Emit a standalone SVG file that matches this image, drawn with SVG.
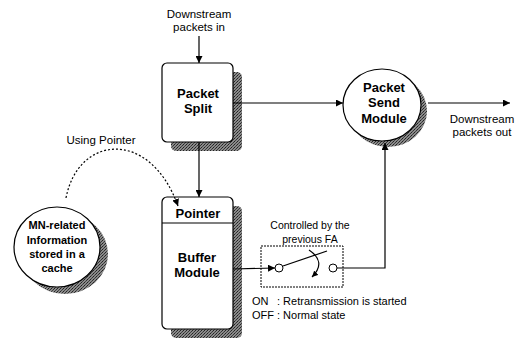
<svg xmlns="http://www.w3.org/2000/svg" width="516" height="339" viewBox="0 0 516 339">
<style>
text{font-family:"Liberation Sans",Arial,sans-serif;fill:#000}
.lbl{font-size:11.5px}
.st{font-size:11px}
.sm{font-size:10.5px}
.b{font-size:13px;font-weight:bold}
.bc{font-size:11px;font-weight:bold}
.node{fill:#fff;stroke:#000;stroke-width:1.2}
.sh{fill:url(#stip);stroke:none}
.ln{fill:none;stroke:#000;stroke-width:1.2}
</style>
<defs>
<pattern id="stip" width="3" height="3" patternUnits="userSpaceOnUse">
<rect width="3" height="3" fill="#8a8a8a"/>
<rect x="0" y="0" width="1" height="1" fill="#222"/>
<rect x="2" y="1" width="1" height="1" fill="#333"/>
<rect x="1" y="2" width="1" height="1" fill="#444"/>
</pattern>
<marker id="ah" viewBox="0 0 10 10" refX="10" refY="5" markerWidth="7" markerHeight="7" orient="auto" markerUnits="userSpaceOnUse">
<path d="M0,0 L10,5 L0,10 z" fill="#000"/>
</marker>
<marker id="ahs" viewBox="0 0 10 10" refX="10" refY="5" markerWidth="6" markerHeight="6" orient="auto" markerUnits="userSpaceOnUse">
<path d="M0,0 L10,5 L0,10 z" fill="#000"/>
</marker>
</defs>

<g id="packet-split">
<rect class="sh" x="171" y="72" width="71" height="79" rx="5"/>
<rect class="node" x="162" y="63" width="71" height="79" rx="5"/>
<text class="b" x="198" y="98" text-anchor="middle">Packet</text>
<text class="b" x="198" y="113" text-anchor="middle">Split</text>
</g>

<g id="buffer-module">
<rect class="sh" x="171" y="206" width="71" height="132" rx="5"/>
<rect class="node" x="162" y="197" width="71" height="132" rx="5"/>
<line class="ln" x1="162" y1="223" x2="233" y2="223"/>
<text class="b" x="198" y="218" text-anchor="middle">Pointer</text>
<text class="b" x="197" y="262" text-anchor="middle">Buffer</text>
<text class="b" x="197" y="277" text-anchor="middle">Module</text>
</g>

<g id="packet-send">
<ellipse class="sh" cx="388" cy="111" rx="39" ry="36"/>
<ellipse class="node" cx="382" cy="105" rx="39" ry="36"/>
<text class="b" x="384" y="92" text-anchor="middle">Packet</text>
<text class="b" x="384" y="107" text-anchor="middle">Send</text>
<text class="b" x="384" y="123" text-anchor="middle">Module</text>
</g>

<g id="cache">
<ellipse class="sh" cx="65" cy="254" rx="43" ry="40"/>
<ellipse class="node" cx="57" cy="247" rx="43" ry="40"/>
<text class="bc" x="57" y="229" text-anchor="middle">MN-related</text>
<text class="bc" x="57" y="244" text-anchor="middle">Information</text>
<text class="bc" x="57" y="258" text-anchor="middle">stored in a</text>
<text class="bc" x="57" y="272" text-anchor="middle">cache</text>
</g>

<g id="switch">
<rect x="261" y="246" width="82" height="41" fill="none" stroke="#000" stroke-width="1" stroke-dasharray="2 1"/>
<circle cx="279" cy="268" r="4" fill="#fff" stroke="#000" stroke-width="1"/>
<circle cx="333" cy="268" r="4" fill="#fff" stroke="#000" stroke-width="1"/>
<line class="ln" x1="283" y1="266" x2="327" y2="251"/>
<path class="ln" d="M309,250 Q327,262 312,277" marker-end="url(#ahs)"/>
</g>

<g id="connectors">
<line class="ln" x1="199" y1="36" x2="199" y2="63" marker-end="url(#ah)"/>
<line class="ln" x1="199" y1="142" x2="199" y2="197" marker-end="url(#ah)"/>
<line class="ln" x1="233" y1="103" x2="343" y2="103" marker-end="url(#ah)"/>
<line class="ln" x1="428" y1="103" x2="510" y2="103" marker-end="url(#ah)"/>
<line class="ln" x1="233" y1="269" x2="275" y2="268" marker-end="url(#ah)"/>
<path class="ln" d="M337,268 L385,268 L385,143" marker-end="url(#ah)"/>
<path d="M66,198 C78,135 150,128 178,206" fill="none" stroke="#000" stroke-width="1.2" stroke-dasharray="2 2" marker-end="url(#ah)"/>
</g>

<g id="labels">
<text class="lbl" x="199" y="18" text-anchor="middle">Downstream</text>
<text class="lbl" x="199" y="31" text-anchor="middle">packets in</text>
<text class="lbl" x="482" y="123" text-anchor="middle">Downstream</text>
<text class="lbl" x="482" y="136" text-anchor="middle">packets out</text>
<text class="lbl" x="101" y="144" text-anchor="middle">Using Pointer</text>
<text class="sm" x="310" y="229" text-anchor="middle">Controlled by the</text>
<text class="sm" x="310" y="243" text-anchor="middle">previous FA</text>
<text class="st" x="252" y="305"><tspan>ON</tspan><tspan x="277">: Retransmission is started</tspan></text>
<text class="st" x="252" y="319"><tspan>OFF</tspan><tspan x="277">: Normal state</tspan></text>
</g>
</svg>
